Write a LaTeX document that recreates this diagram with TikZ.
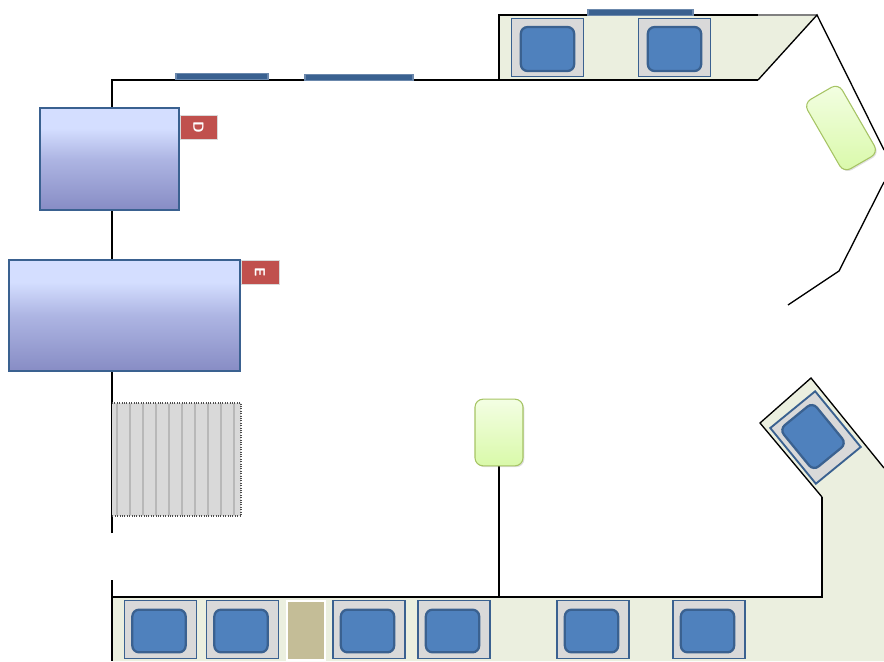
\documentclass[tikz,border=0pt]{standalone}
\usetikzlibrary{shadows}
\definecolor{counterfill}{HTML}{EBEFDF}
\definecolor{steelline}{HTML}{3A6190}
\definecolor{basinblue}{HTML}{4F81BD}
\definecolor{sinkgrey}{HTML}{D9D9D9}
\definecolor{tagred}{HTML}{C0504D}
\definecolor{tanfill}{HTML}{C4BD97}
\definecolor{plantline}{HTML}{A6C464}
\definecolor{plantlight}{HTML}{F3FEE3}
\definecolor{plantdark}{HTML}{D9F9A9}
\pgfdeclareverticalshading{lilac}{100bp}{rgb(0bp)=(0.53,0.55,0.77); rgb(25bp)=(0.53,0.55,0.77); rgb(50bp)=(0.68,0.71,0.89); rgb(65bp)=(0.83,0.87,1); rgb(100bp)=(0.83,0.87,1)}
\tikzset{
  wall/.style={line width=1.5pt,black},
  thinwall/.style={line width=1pt,black},
  sinkbox/.style={draw=steelline,fill=sinkgrey,line width=1.4pt,inner sep=0pt,minimum width=54pt,minimum height=43.5pt},
  basin/.style={draw=steelline,fill=basinblue,line width=1.7pt,rounded corners=5pt,inner sep=0pt,minimum width=40pt,minimum height=32pt},
  shelf/.style={draw=steelline,shading=lilac,line width=2pt,inner sep=0pt},
  tag/.style={draw=black!15,fill=tagred,text=white,line width=0.6pt,inner sep=0pt,font=\sffamily\bfseries\fontsize{11}{11}\selectfont,rotate=-90},
  window/.style={draw=steelline!75,fill=steelline,line width=0.9pt,inner sep=0pt,minimum height=4.5pt},
  plant/.style={draw=plantline,top color=plantlight,bottom color=plantdark,line width=0.8pt,rounded corners=6pt,inner sep=0pt,drop shadow={opacity=0.25,shadow xshift=1pt,shadow yshift=-1pt}}
}
\begin{document}
\begin{tikzpicture}[x=0.75pt,y=-0.75pt]
\useasboundingbox (0,0) rectangle (884,661);
% counters
\fill[counterfill] (499,15) -- (817,15) -- (758,80) -- (499,80) -- cycle;
\fill[counterfill] (811,378) -- (884,468) -- (884,661) -- (112,661) -- (112,597) -- (822,597) -- (822,497) -- (760,423) -- cycle;
% walls
\draw[wall] (112,533) -- (112,80) -- (758,80);
\draw[wall] (112,580) -- (112,661);
\draw[wall] (499,80) -- (499,15) -- (758,15);
\draw[thinwall,gray] (758,15) -- (817,15);
\draw[thinwall] (758,80) -- (817,15) -- (884,150);
\draw[thinwall] (884,182) -- (839,271) -- (788,305);
\draw[thinwall] (822,497) -- (760,423) -- (811,378) -- (884,468);
\draw[wall] (822,497) -- (822,597) -- (112,597);
\draw[wall] (499,466) -- (499,597);
% windows
\node[window,minimum width=69pt] (winA) at (222,76.8) {};
\node[window,minimum width=81pt] (winB) at (359,77.5) {};
\node[window,minimum width=78.75pt] (winC) at (640.5,12.5) {};
% shelves
\node[shelf,minimum width=104.25pt,minimum height=76.5pt] (shelfD) at (109.5,159) {};
\node[shelf,minimum width=173.25pt,minimum height=83.25pt] (shelfE) at (124.5,315.5) {};
\node[tag,minimum width=18pt,minimum height=27.75pt] (tagD) at (198.5,127) {D};
\node[tag,minimum width=18pt,minimum height=28.5pt] (tagE) at (260,272) {E};
% stairs
\fill[sinkgrey] (112,403) rectangle (241,516);
\foreach \x in {117,130,143,156,169,182,195,208,221,234}
  \draw[black!28,line width=1pt] (\x,404) -- (\x,515);
\draw[black!70,densely dotted,line width=0.8pt] (112,403) -- (241,403) -- (241,516) -- (112,516);
% sinks
\foreach \x/\name in {547.5/tA,674.5/tB}{
  \node[sinkbox] (sink\name) at (\x,47.5) {};
  \node[basin,minimum height=33pt] (basin\name) at (\x,49) {};
}
\foreach \x/\name in {160.5/bA,242.5/bB,369/bC,454/bD,593/bE,709/bF}{
  \node[sinkbox] (sink\name) at (\x,629.5) {};
  \node[basin] (basin\name) at (\x-1.5,631) {};
}
\node[sinkbox,rotate=-50.7] (sinkR) at (815.5,437.5) {};
\node[basin,rotate=-50.7] (basinR) at (813,436.5) {};
\node[draw=white,fill=tanfill,line width=1.5pt,inner sep=0pt,minimum width=29pt,minimum height=44pt] (tray) at (306,630.5) {};
% planters
\node[plant,minimum width=60pt,minimum height=30pt,rotate=-60] (plantA) at (841,128) {};
\node[plant,minimum width=36pt,minimum height=50pt] (plantB) at (499,432.5) {};
\end{tikzpicture}
\end{document}
